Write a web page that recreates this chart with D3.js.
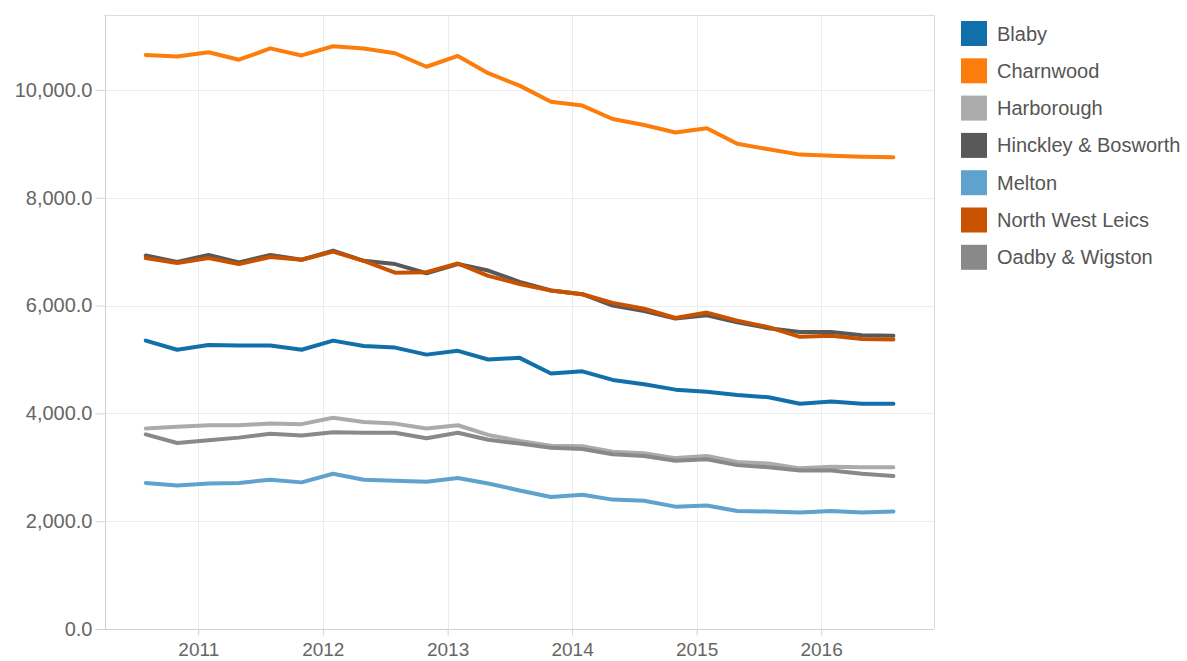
<!DOCTYPE html>
<html>
<head>
<meta charset="utf-8">
<script src="https://cdn.jsdelivr.net/npm/d3@7"></script>
<style>
  html, body { margin: 0; padding: 0; background: #fff; }
  svg { display: block; font-family: "Liberation Sans", Arial, sans-serif; }
</style>
</head>
<body>
<svg id="chart" width="1187" height="661"></svg>
<script>
// quarterly periods (month ending)
const quarters = [
  '2010-07-31', '2010-10-31', '2011-01-31', '2011-04-30', '2011-07-31',
  '2011-10-31', '2012-01-31', '2012-04-30', '2012-07-31', '2012-10-31',
  '2013-01-31', '2013-04-30', '2013-07-31', '2013-10-31', '2014-01-31',
  '2014-04-30', '2014-07-31', '2014-10-31', '2015-01-31', '2015-04-30',
  '2015-07-31', '2015-10-31', '2016-01-31', '2016-04-30', '2016-07-31',
]

const districts = ['Blaby', 'Charnwood', 'Harborough', 'Hinckley & Bosworth', 'Melton', 'North West Leics', 'Oadby & Wigston']

const blaby = [5350, 5180, 5270, 5260, 5260, 5180, 5350, 5250, 5220, 5090, 5160, 5000, 5030, 4740, 4780, 4620, 4540, 4440, 4400, 4340, 4300, 4180, 4220, 4180, 4180]
const charnwood = [10650, 10620, 10700, 10560, 10770, 10640, 10810, 10770, 10680, 10430, 10630, 10310, 10080, 9780, 9710, 9460, 9350, 9210, 9290, 9000, 8900, 8800, 8780, 8760, 8750]
const harborough = [3720, 3750, 3780, 3780, 3810, 3800, 3920, 3840, 3810, 3720, 3780, 3600, 3490, 3400, 3390, 3290, 3260, 3170, 3210, 3100, 3070, 2980, 3010, 3000, 3000]
const hinckley = [6930, 6810, 6940, 6800, 6940, 6850, 7020, 6830, 6770, 6600, 6770, 6650, 6440, 6280, 6210, 6000, 5900, 5760, 5820, 5690, 5580, 5510, 5510, 5450, 5440]
const melton = [2710, 2660, 2700, 2710, 2770, 2720, 2880, 2770, 2750, 2730, 2800, 2700, 2570, 2450, 2490, 2400, 2380, 2270, 2290, 2190, 2180, 2160, 2190, 2160, 2180]
const northWestLeics = [6880, 6790, 6880, 6770, 6900, 6850, 7000, 6830, 6610, 6620, 6780, 6550, 6400, 6280, 6210, 6050, 5940, 5770, 5870, 5720, 5600, 5420, 5440, 5380, 5370]
const oadby = [3610, 3450, 3500, 3550, 3620, 3590, 3650, 3640, 3640, 3540, 3640, 3510, 3440, 3360, 3340, 3240, 3210, 3120, 3150, 3040, 3000, 2940, 2940, 2880, 2840]

const yTicks = [0, 2000, 4000, 6000, 8000, 10000]
const colors = ['#1170aa', '#fc7d0b', '#ababab', '#595959', '#5fa2ce', '#c85200', '#898989']

const seriesValues = [blaby, charnwood, harborough, hinckley, melton, northWestLeics, oadby]

const parse = d3.utcParse('%Y-%m-%d')
const dates = quarters.map(parse)

const series = districts.map((name, i) => ({
  name,
  color: colors[i],
  values: seriesValues[i].map((v, j) => ({ date: dates[j], value: v })),
}))

const plot = { left: 104.5, right: 934, top: 15, bottom: 629 }

const x = d3.scaleUtc()
  .domain([parse('2010-04-01'), parse('2016-11-27')])
  .range([plot.left, plot.right])

const y = d3.scaleLinear()
  .domain([0, 11390])
  .range([plot.bottom, plot.top])

const svg = d3.select('#chart')

// grid
const years = x.ticks(d3.utcYear.every(1))

svg.append('g')
  .selectAll('line')
  .data(years)
  .join('line')
  .attr('x1', (d) => Math.round(x(d)) + 0.5)
  .attr('x2', (d) => Math.round(x(d)) + 0.5)
  .attr('y1', plot.top)
  .attr('y2', plot.bottom + 6)
  .attr('stroke', '#ececec')

svg.append('g')
  .selectAll('line')
  .data(yTicks.filter((d) => d > 0))
  .join('line')
  .attr('x1', plot.left)
  .attr('x2', plot.right)
  .attr('y1', (d) => Math.round(y(d)) + 0.5)
  .attr('y2', (d) => Math.round(y(d)) + 0.5)
  .attr('stroke', '#ececec')

// frame
svg.append('path')
  .attr('d', `M${plot.left},${plot.top + 0.5}H${plot.right + 0.5}V${plot.bottom}`)
  .attr('fill', 'none')
  .attr('stroke', '#dcdcdc')

// y axis
const yAxis = svg.append('g')
  .attr('transform', `translate(${Math.round(plot.left) + 0.5},0)`)
  .call(d3.axisLeft(y).tickValues(yTicks).tickFormat(d3.format(',.1f')).tickSize(10).tickPadding(3))
yAxis.select('.domain').attr('stroke', '#d0d0d0').attr('d', `M0,${plot.top}V${plot.bottom}`)
yAxis.selectAll('.tick line').attr('stroke', '#d6d6d6')
yAxis.selectAll('.tick text')
  .attr('fill', '#666')
  .attr('font-size', 20)
  .attr('font-family', '"Liberation Sans", Arial, sans-serif')

// x axis
const xAxis = svg.append('g')
  .attr('transform', `translate(0,${Math.round(plot.bottom) + 0.5})`)
  .call(d3.axisBottom(x).ticks(d3.utcYear.every(1)).tickFormat(d3.utcFormat('%Y')).tickSize(6).tickPadding(7))
xAxis.select('.domain').attr('stroke', '#d0d0d0').attr('d', `M${plot.left - 9},0H${plot.right}`)
xAxis.selectAll('.tick line').attr('stroke', '#d6d6d6')
xAxis.selectAll('.tick text')
  .attr('fill', '#666')
  .attr('font-size', 19)
  .attr('font-family', '"Liberation Sans", Arial, sans-serif')

// lines
const line = d3.line()
  .x((d) => x(d.date))
  .y((d) => y(d.value))

svg.append('g')
  .selectAll('path')
  .data(series)
  .join('path')
  .attr('d', (d) => line(d.values))
  .attr('fill', 'none')
  .attr('stroke', (d) => d.color)
  .attr('stroke-width', 4)
  .attr('stroke-linejoin', 'round')
  .attr('stroke-linecap', 'round')

// legend
const legend = svg.append('g')
  .attr('transform', 'translate(961,21)')

const rows = legend.selectAll('g')
  .data(series)
  .join('g')
  .attr('transform', (d, i) => `translate(0,${i * 37.3})`)

rows.append('rect')
  .attr('width', 26)
  .attr('height', 25)
  .attr('fill', (d) => d.color)

rows.append('text')
  .attr('x', 36)
  .attr('y', 12.5)
  .attr('dy', '0.35em')
  .attr('fill', '#555')
  .attr('font-size', 20)
  .text((d) => d.name)
</script>
</body>
</html>
